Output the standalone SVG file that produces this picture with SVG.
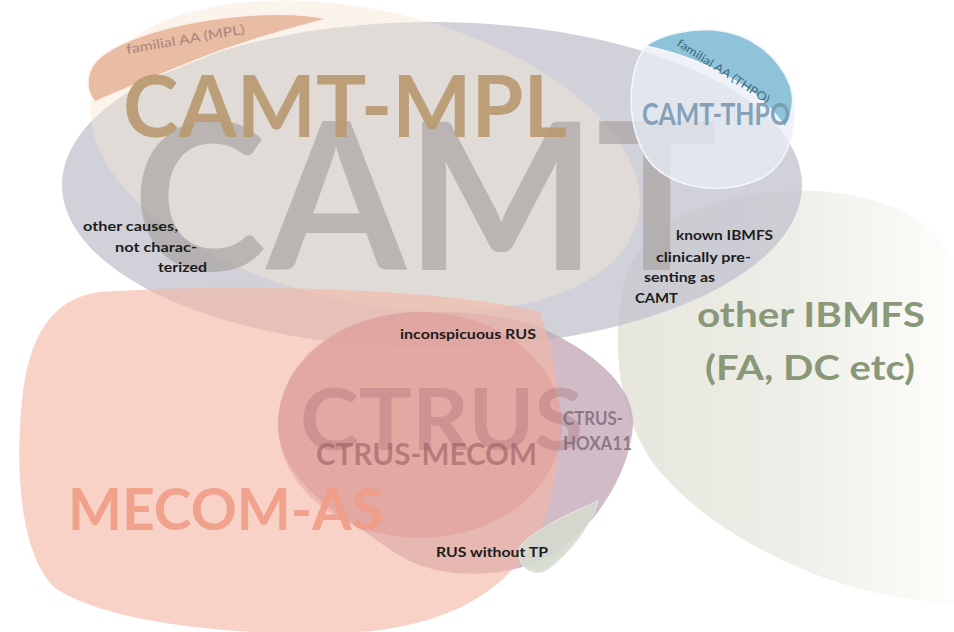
<svg xmlns="http://www.w3.org/2000/svg" width="954" height="632" viewBox="0 0 954 632">
<defs>
<linearGradient id="gIb" gradientUnits="userSpaceOnUse" x1="620" y1="0" x2="954" y2="0">
<stop offset="0" stop-color="#e6e6dd"/>
<stop offset="0.5" stop-color="#eeeee8"/>
<stop offset="1" stop-color="#fefdfb"/>
</linearGradient>
</defs>
<style>
text{font-family:Lato,"Open Sans","Liberation Sans",sans-serif;font-weight:700}
.lbl{font-size:14px;fill:#1c1c1c}
</style>
<rect width="954" height="632" fill="#ffffff"/>
<g id="other-ibmfs">
<path d="M640,250 C670,205 760,185 830,192 C900,200 935,225 954,262 L954,604 C900,600 845,588 805,570 C745,545 695,512 662,474 C632,440 616,385 618,332 C620,292 626,266 640,250 Z" fill="url(#gIb)"/>
</g>
<g id="camt">
<ellipse cx="432" cy="185" rx="370" ry="163" fill="#c4c6cf" fill-opacity="0.8"/>
</g>
<g id="camt-mpl">
<ellipse cx="365" cy="156" rx="280" ry="146" transform="rotate(13 365 156)" fill="#f6e6d4" fill-opacity="0.45"/>
</g>
<g id="familial-aa-mpl">
<path d="M95,102 C84,88 86,68 102,56 C127,37 177,23 230,17 C270,13 305,14 327,19 C292,28 238,43 194,61 C152,78 116,92 95,102 Z" fill="#e9bca4" stroke="#fbefe6" stroke-width="1.5"/>
</g>
<g id="camt-label">
<text x="133" y="270" font-size="205" fill="#a8a2a0" fill-opacity="0.68" textLength="584" lengthAdjust="spacingAndGlyphs">CAMT</text>
</g>
<g id="camt-thpo">
<path d="M646,46 C628,70 625,120 645,155 C665,188 720,198 762,178 C795,160 800,110 790,85 C780,55 750,32 712,30 C685,29 660,36 646,46 Z" fill="#e8eef6" fill-opacity="0.75" stroke="#f4f7fb" stroke-width="1.5"/>
</g>
<g id="familial-aa-thpo">
<path d="M646,46 C660,35 690,28 715,30 C750,33 778,55 790,85 C795,100 792,115 785,128 C770,100 720,62 646,46 Z" fill="#8fc3d9" stroke="#f2f7fa" stroke-width="1.5"/>
</g>
<g id="ctrus">
<path d="M278,425 C278,360 340,313 420,312 C480,311 520,318 545,330 C590,350 635,385 633,425 C630,470 600,520 560,550 C530,570 490,576 455,573 C420,570 395,555 370,535 C320,505 278,470 278,425 Z" fill="#c4aab8" fill-opacity="0.8"/>
</g>
<g id="mecom-as">
<path d="M100,292 C250,282 450,290 540,312 C565,380 566,470 540,530 C510,590 450,625 360,632 C250,638 110,625 55,588 C20,555 15,470 22,400 C28,340 50,298 100,292 Z" fill="#f3b6a5" fill-opacity="0.62"/>
</g>
<g id="ctrus-mecom">
<ellipse cx="420" cy="425" rx="142" ry="113" fill="#e08e8c" fill-opacity="0.38"/>
</g>
<g id="rus-without-tp">
<path d="M519,548 C530,532 565,515 598,501 C592,525 568,555 547,570 C532,578 516,566 519,548 Z" fill="#d5dace" fill-opacity="0.9" stroke="#e6e9e2" stroke-width="1"/>
</g>
<g id="connectors"></g>
<g id="labels">
<text x="123" y="137" font-size="86" fill="#b89a70" fill-opacity="0.92" textLength="444" lengthAdjust="spacingAndGlyphs">CAMT-MPL</text>
<text transform="translate(127,54) rotate(-9.8)" font-size="13" fill="#a8867a" textLength="120" lengthAdjust="spacingAndGlyphs" style="font-weight:400">familial AA (MPL)</text>
<text transform="translate(676,45) rotate(33)" font-size="11.5" fill="#3f6c80" textLength="108" lengthAdjust="spacingAndGlyphs" style="font-weight:400">familial AA (THPO)</text>
<text x="642" y="125" font-size="30" fill="#7898b0" fill-opacity="0.9" textLength="148" lengthAdjust="spacingAndGlyphs">CAMT-THPO</text>
<text class="lbl" x="83" y="231" textLength="95" lengthAdjust="spacingAndGlyphs">other causes,</text>
<text class="lbl" x="115" y="252" textLength="82" lengthAdjust="spacingAndGlyphs">not charac-</text>
<text class="lbl" x="158" y="272" textLength="49" lengthAdjust="spacingAndGlyphs">terized</text>
<text class="lbl" x="676" y="240" textLength="97" lengthAdjust="spacingAndGlyphs">known IBMFS</text>
<text class="lbl" x="656" y="262" textLength="95" lengthAdjust="spacingAndGlyphs">clinically pre-</text>
<text class="lbl" x="644" y="282" textLength="71" lengthAdjust="spacingAndGlyphs">senting as</text>
<text class="lbl" x="635" y="303" textLength="43" lengthAdjust="spacingAndGlyphs">CAMT</text>
<text x="697" y="327" font-size="34" fill="#889878" textLength="228" lengthAdjust="spacingAndGlyphs">other IBMFS</text>
<text x="705" y="380" font-size="34" fill="#889878" textLength="210" lengthAdjust="spacingAndGlyphs">(FA, DC etc)</text>
<text class="lbl" x="400" y="339" textLength="136" lengthAdjust="spacingAndGlyphs">inconspicuous RUS</text>
<text x="300" y="450" font-size="86" fill="#a87078" fill-opacity="0.38" textLength="283" lengthAdjust="spacingAndGlyphs">CTRUS</text>
<text x="316" y="465" font-size="31" fill="#9a5c60" fill-opacity="0.6" textLength="221" lengthAdjust="spacingAndGlyphs">CTRUS-MECOM</text>
<text x="563" y="425" font-size="18" fill="#7a6070" fill-opacity="0.75" textLength="60" lengthAdjust="spacingAndGlyphs">CTRUS-</text>
<text x="563" y="450" font-size="18" fill="#7a6070" fill-opacity="0.75" textLength="69" lengthAdjust="spacingAndGlyphs">HOXA11</text>
<text x="68" y="530" font-size="58" fill="#ee9c86" fill-opacity="0.9" textLength="315" lengthAdjust="spacingAndGlyphs">MECOM-AS</text>
<text class="lbl" x="436" y="557" textLength="112" lengthAdjust="spacingAndGlyphs">RUS without TP</text>
</g>
</svg>
